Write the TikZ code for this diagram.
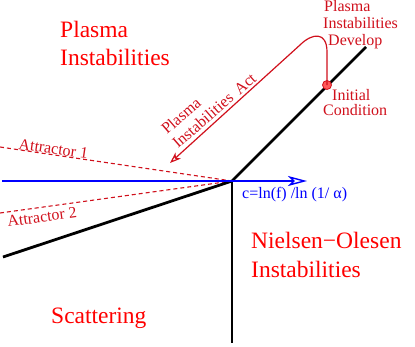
\documentclass[tikz,border=0pt]{standalone}
\usepackage{fontspec}
\setmainfont{Liberation Serif}
\usetikzlibrary{arrows.meta}
\definecolor{dred}{RGB}{208,16,28}
\definecolor{bred}{RGB}{255,0,0}
\tikzset{
  axisline/.style={line width=2.8pt, black},
  bigtxt/.style={text=bred, font=\fontsize{23.5}{28}\selectfont, inner sep=0pt, anchor=base west},
  smalltxt/.style={text=dred, font=\fontsize{16}{17}\selectfont, inner sep=0pt, anchor=base west},
  bluetxt/.style={text=blue, font=\fontsize{16}{17}\selectfont, inner sep=0pt, anchor=base west},
  attr/.style={dred, line width=1.1pt, dash pattern=on 4pt off 3pt},
}
\begin{document}
\begin{tikzpicture}[x=1pt,y=-1pt]
\useasboundingbox (0,0) rectangle (415,346);
% key points
\coordinate (O) at (232,181);
\coordinate (UR) at (366,47);
\coordinate (LL) at (3,257);
\coordinate (DN) at (232,343);
\coordinate (BL) at (2,181);
\coordinate (BR) at (307,181);
\coordinate (A1) at (0,147);
\coordinate (A2) at (0,213);
\coordinate (ArrTip) at (170,163);
% attractor lines
\draw[attr] (A1) -- (O);
\draw[attr] (A2) -- (O);
% black lines
\draw[axisline] (LL) -- (O) -- (UR);
\draw[axisline] (O) -- (DN);
% blue axis
\draw[blue, line width=1.4pt, -{Stealth[open, length=19pt, width=10pt, inset=5pt]}] (BL) -- (BR);
\node[bluetxt] (clabel) at (242,198) {c=ln(f) /ln (1/ α)};
% initial condition dot
\node[circle, draw=dred, fill=red!65!white, line width=0.8pt, minimum size=9pt, inner sep=0pt] (ic) at (327,85) {};
% red curve
\draw[dred, line width=1.2pt, -{Stealth[open, length=11pt, width=8pt, inset=3pt]}]
  (ic.center) -- (327,52) .. controls (327,31) and (312,33) .. (300,45) -- (ArrTip);
% labels
\node[bigtxt] (pl1) at (60,37) {Plasma};
\node[bigtxt] (pl2) at (60,65) {Instabilities};
\node[bigtxt] (sc) at (51,323) {Scattering};
\node[bigtxt] (no1) at (251,248) {Nielsen−Olesen};
\node[bigtxt] (no2) at (251,277) {Instabilities};
\node[smalltxt] (pd1) at (324,11) {Plasma};
\node[smalltxt] (pd2) at (323,28) {Instabilities};
\node[smalltxt] (pd3) at (328,45) {Develop};
\node[smalltxt] (ic1) at (332,100) {Initial};
\node[smalltxt] (ic2) at (323,115) {Condition};
\node[smalltxt, rotate=41] (pa1) at (167,135) {Plasma};
\node[smalltxt, rotate=41] (pa2) at (178,149) {Instabilities\hspace{7pt}Act};
\node[smalltxt, rotate=-8.3] (at1) at (18,149) {Attractor 1};
\node[smalltxt, rotate=7.9] (at2) at (8,227) {Attractor 2};
\end{tikzpicture}
\end{document}
